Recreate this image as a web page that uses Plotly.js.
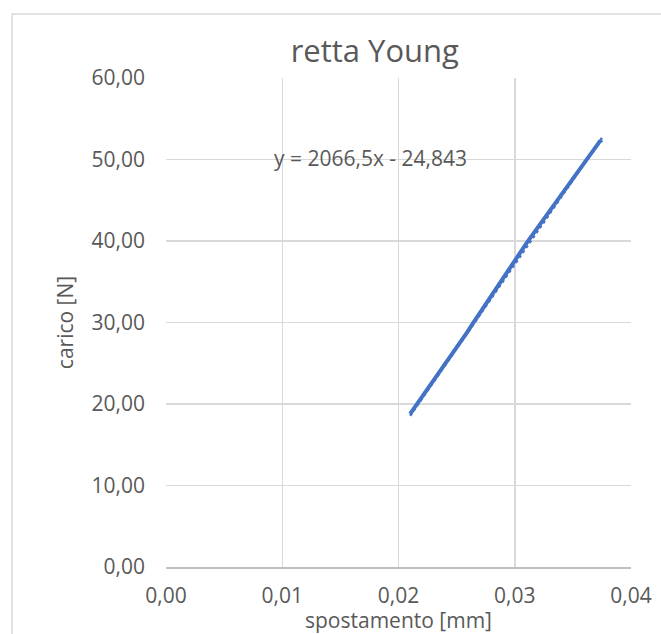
<!DOCTYPE html>
<html>
<head>
<meta charset="utf-8">
<script src="https://cdn.plot.ly/plotly-3.0.1.min.js"></script>
<style>html,body{margin:0;padding:0;background:#fff;}#chart{width:661px;height:634px;}</style>
</head>
<body>
<div id="chart"></div>
<script>
// spostamento [mm]
const spostamento = [0.0210, 0.0216, 0.0222, 0.0229, 0.0235, 0.0241, 0.0247, 0.0253, 0.0259, 0.0264,
  0.0270, 0.0276, 0.0282, 0.0288, 0.0293, 0.0299, 0.0305, 0.0310, 0.0316, 0.0322,
  0.0327, 0.0333, 0.0338, 0.0344, 0.0349, 0.0355, 0.0360, 0.0365, 0.0370, 0.0373, 0.0375];
// carico [N]
const carico = [18.8, 20.0, 21.2, 22.6, 23.9, 25.1, 26.3, 27.5, 28.8, 29.9,
  31.2, 32.4, 33.7, 35.0, 36.1, 37.4, 38.6, 39.7, 40.9, 42.1,
  43.1, 44.3, 45.3, 46.5, 47.5, 48.7, 49.7, 50.7, 51.7, 52.2, 52.4];
// trendline coefficients (from the equation shown)
const slope = 2066.5;
const intercept = -24.843;
const equationText = "y = 2066,5x - 24,843";
const xTicks = [0, 0.01, 0.02, 0.03, 0.04];
const yTicks = [0, 10, 20, 30, 40, 50, 60];

const xMin = Math.min(...spostamento), xMax = Math.max(...spostamento);
const trendX = [xMin, xMax];
const trendY = trendX.map(v => slope * v + intercept);

const blue = '#4472C4';
const txt = '#595959';
const fontFam = '"Open Sans", "Noto Sans", sans-serif';

const data = [
  {x: spostamento, y: carico, type: 'scatter', mode: 'lines',
   line: {color: blue, width: 4}, hoverinfo: 'skip', showlegend: false},
  {x: trendX, y: trendY, type: 'scatter', mode: 'lines',
   line: {color: blue, width: 2.5, dash: 'dot'}, hoverinfo: 'skip', showlegend: false}
];

const layout = {
  width: 661, height: 634,
  margin: {l: 166, r: 30, t: 78, b: 67},
  paper_bgcolor: '#ffffff', plot_bgcolor: '#ffffff',
  separators: ',.',
  font: {family: fontFam, color: txt, size: 21},
  title: {text: 'retta Young', font: {size: 31, color: txt, family: fontFam},
          xref: 'container', yref: 'container', x: 0.567, y: 1 - 51/634,
          xanchor: 'center', yanchor: 'middle'},
  xaxis: {range: [0, 0.04], tickvals: xTicks, tickformat: '.2f',
          showgrid: true, gridcolor: '#d9d9d9', gridwidth: 1.5,
          showline: true, linecolor: '#bfbfbf', linewidth: 1.5,
          zeroline: false, ticks: '', ticklabelstandoff: 9,
          tickfont: {size: 21, color: txt},
          title: {text: 'spostamento [mm]', font: {size: 21, color: txt}, standoff: 0}},
  yaxis: {range: [0, 60], tickvals: yTicks, tickformat: '.2f',
          showgrid: true, gridcolor: '#d9d9d9', gridwidth: 1.5,
          showline: false, zeroline: false, ticks: '', ticklabelstandoff: 20,
          tickfont: {size: 21, color: txt},
          title: {text: 'carico [N]', font: {size: 21, color: txt}, standoff: 12}},
  annotations: [{x: 0.01755, y: 50.2, xref: 'x', yref: 'y', text: equationText,
                 showarrow: false, font: {size: 21, color: txt},
                 xanchor: 'center', yanchor: 'middle'}],
  shapes: [{type: 'rect', xref: 'paper', yref: 'paper', x0: -0.331, x1: 2, y0: -0.5, y1: 1.131,
            line: {color: '#d9d9d9', width: 1.5}, fillcolor: 'rgba(0,0,0,0)', layer: 'below'}]
};

Plotly.newPlot('chart', data, layout, {displayModeBar: false, staticPlot: true});
</script>
</body>
</html>
